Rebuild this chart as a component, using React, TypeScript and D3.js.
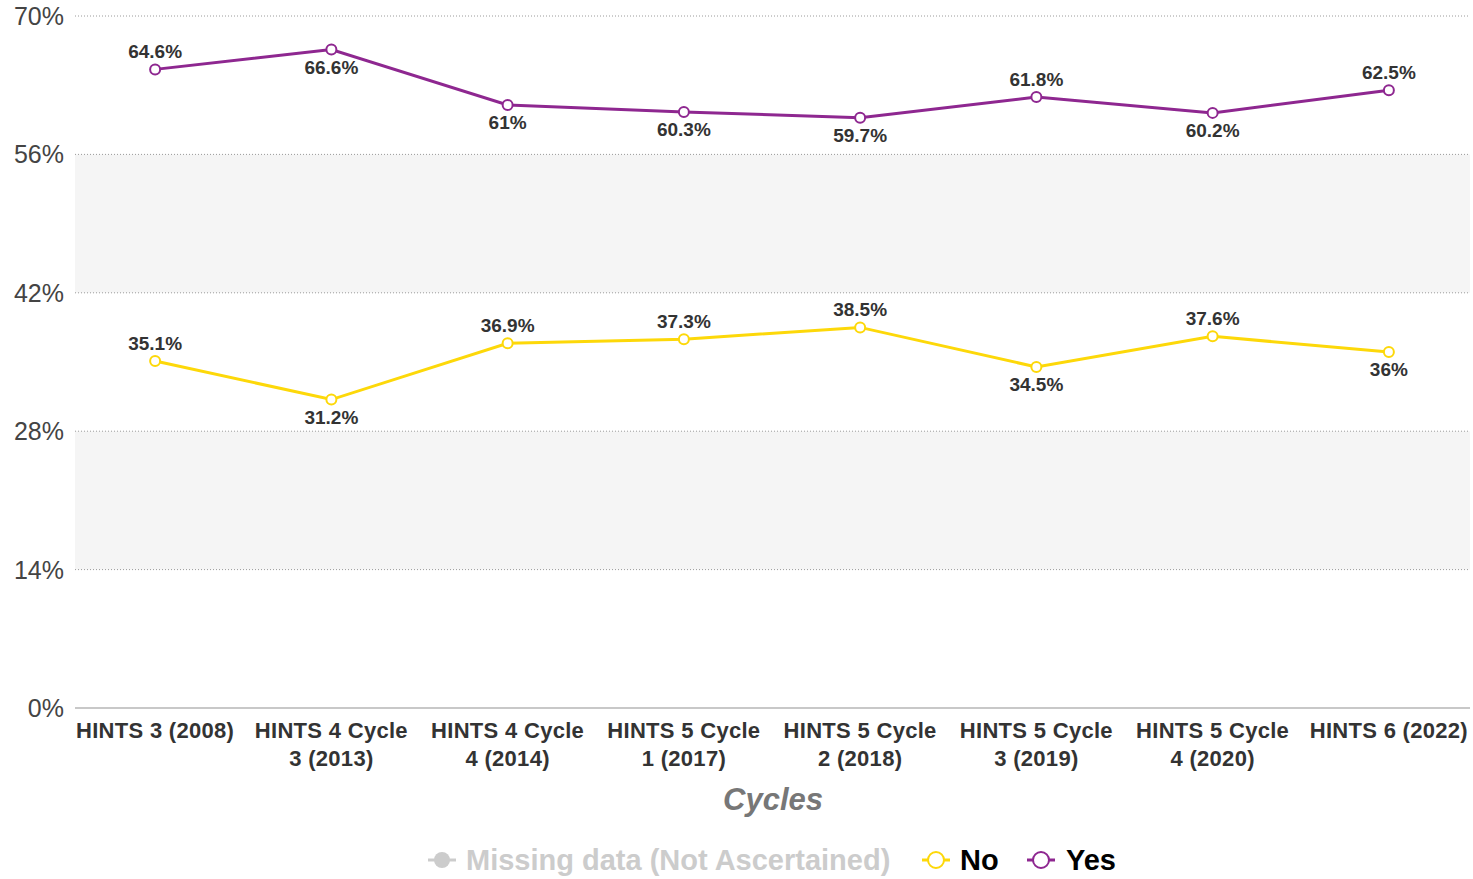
import React from "react";
import * as d3 from "d3";

const categories = [
  "HINTS 3 (2008)",
  "HINTS 4 Cycle 3 (2013)",
  "HINTS 4 Cycle 4 (2014)",
  "HINTS 5 Cycle 1 (2017)",
  "HINTS 5 Cycle 2 (2018)",
  "HINTS 5 Cycle 3 (2019)",
  "HINTS 5 Cycle 4 (2020)",
  "HINTS 6 (2022)",
];
const yesValues = [64.6, 66.6, 61, 60.3, 59.7, 61.8, 60.2, 62.5];
const noValues = [35.1, 31.2, 36.9, 37.3, 38.5, 34.5, 37.6, 36];
const yesLabelAbove = [true, false, false, false, false, true, false, true];
const noLabelAbove = [true, false, true, true, true, false, true, false];
const yTicks = [0, 14, 28, 42, 56, 70];

const W = 1473;
const H = 879;
const FONT = "'Liberation Sans', Arial, sans-serif";
const YES_COLOR = "#8e2790";
const NO_COLOR = "#fdd809";

function wrapLabel(text: string, maxWidth: number, font: string): string[] {
  const canvas = document.createElement("canvas");
  const ctx = canvas.getContext("2d")!;
  ctx.font = font;
  const words = text.split(" ");
  const lines: string[] = [];
  let cur = "";
  for (const w of words) {
    const test = cur ? cur + " " + w : w;
    if (ctx.measureText(test).width > maxWidth && cur) {
      lines.push(cur);
      cur = w;
    } else cur = test;
  }
  if (cur) lines.push(cur);
  return lines;
}

export default function App() {
  const x = d3.scaleBand<string>().domain(categories).range([67, 1477]);
  const y = d3.scaleLinear().domain([0, 70]).range([708, 16]);
  const cx = (c: string) => (x(c) as number) + x.bandwidth() / 2;
  const line = d3
    .line<number>()
    .x((_, i) => cx(categories[i]))
    .y((d) => y(d));

  const bands = [] as { y0: number; y1: number }[];
  for (let i = 0; i < yTicks.length - 1; i++) {
    if (i % 2 === 1) bands.push({ y0: yTicks[i], y1: yTicks[i + 1] });
  }

  const labelFont = `bold 22px ${FONT}`;

  const series = [
    { vals: noValues, color: NO_COLOR, above: noLabelAbove },
    { vals: yesValues, color: YES_COLOR, above: yesLabelAbove },
  ];

  return (
    <svg width={W} height={H} style={{ position: "absolute", left: 0, top: 0 }}>
      {bands.map((b, i) => (
        <rect key={i} x={75} width={1395} y={y(b.y1)} height={y(b.y0) - y(b.y1)} fill="#f5f5f5" />
      ))}
      {yTicks.map((t) =>
        t === 0 ? (
          <line key={t} x1={75} x2={1470} y1={y(t)} y2={y(t)} stroke="#c8c8c8" strokeWidth={2} />
        ) : (
          <line key={t} x1={75} x2={1470} y1={y(t)} y2={y(t)} stroke="#9a9a9a" strokeWidth={1} strokeDasharray="1,2" />
        )
      )}
      {yTicks.map((t) => (
        <text key={"l" + t} x={64} y={y(t) + 9} textAnchor="end" fontFamily={FONT} fontSize={25} fill="#444">
          {t}%
        </text>
      ))}
      {categories.map((c) => {
        const lines = wrapLabel(c, 156, labelFont);
        return (
          <text key={c} textAnchor="middle" fontFamily={FONT} fontWeight="bold" fontSize={22} fill="#333" letterSpacing={0.3}>
            {lines.map((l, i) => (
              <tspan key={i} x={cx(c)} y={738 + i * 28}>
                {l}
              </tspan>
            ))}
          </text>
        );
      })}
      <text x={773} y={810} textAnchor="middle" fontFamily={FONT} fontWeight="bold" fontStyle="italic" fontSize={31} fill="#777">
        Cycles
      </text>
      {series.map((s, si) => (
        <g key={si}>
          <path d={line(s.vals) || ""} fill="none" stroke={s.color} strokeWidth={3} />
          {s.vals.map((v, i) => (
            <circle key={i} cx={cx(categories[i])} cy={y(v)} r={5} fill="#fff" stroke={s.color} strokeWidth={2} />
          ))}
          {s.vals.map((v, i) => (
            <text
              key={"t" + i}
              x={cx(categories[i])}
              y={s.above[i] ? y(v) - 11 : y(v) + 24}
              textAnchor="middle"
              fontFamily={FONT}
              fontWeight="bold"
              fontSize={19}
              fill="#333"
            >
              {v}%
            </text>
          ))}
        </g>
      ))}
      <g fontFamily={FONT} fontWeight="bold" fontSize={29}>
        <line x1={428} x2={456} y1={860} y2={860} stroke="#ccc" strokeWidth={3} />
        <circle cx={442} cy={860} r={8} fill="#ccc" />
        <text x={466} y={870} fill="#ccc">Missing data (Not Ascertained)</text>
        <line x1={922} x2={950} y1={860} y2={860} stroke={NO_COLOR} strokeWidth={3} />
        <circle cx={936} cy={860} r={8} fill="#fff" stroke={NO_COLOR} strokeWidth={2} />
        <text x={960} y={870} fill="#000">No</text>
        <line x1={1027} x2={1055} y1={860} y2={860} stroke={YES_COLOR} strokeWidth={3} />
        <circle cx={1041} cy={860} r={8} fill="#fff" stroke={YES_COLOR} strokeWidth={2} />
        <text x={1066} y={870} fill="#000">Yes</text>
      </g>
    </svg>
  );
}
